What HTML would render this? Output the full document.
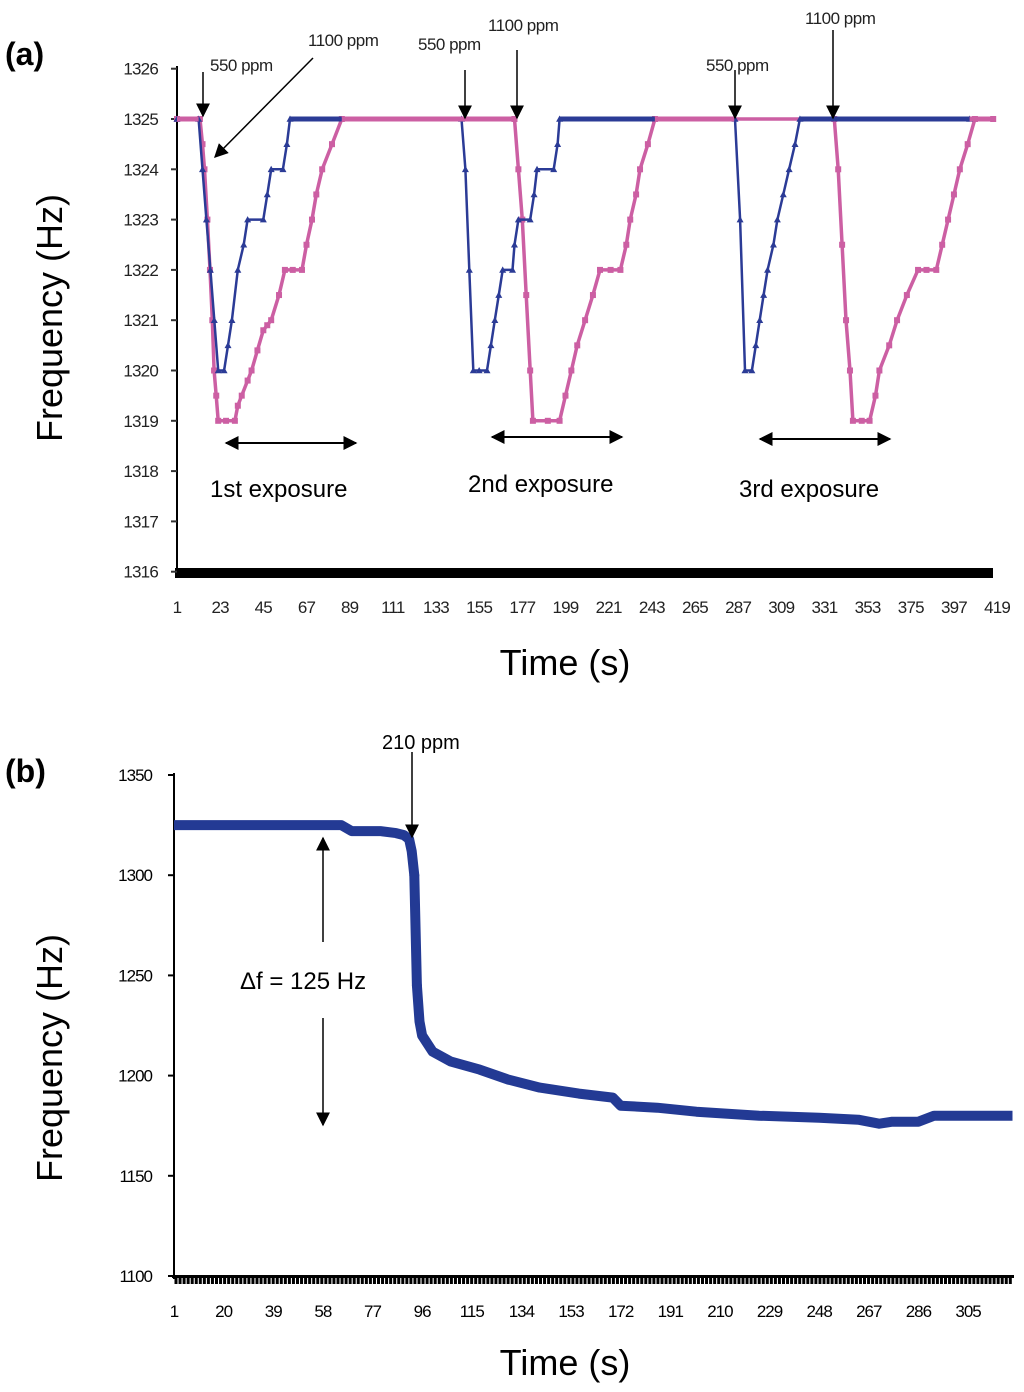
<!DOCTYPE html>
<html><head><meta charset="utf-8"><style>
body{margin:0;background:#fff;}
svg{display:block;font-family:"Liberation Sans",sans-serif;}
</style></head><body>
<svg id="fig" width="1024" height="1392" viewBox="0 0 1024 1392">
<defs>
<marker id="ahb" viewBox="0 0 10 10" markerWidth="14" markerHeight="14" refX="9" refY="5" orient="auto" markerUnits="userSpaceOnUse"><path d="M0,0 L10,5 L0,10 z" fill="#000"/></marker>
<marker id="ahs" viewBox="0 0 10 10" markerWidth="14" markerHeight="14" refX="1" refY="5" orient="auto" markerUnits="userSpaceOnUse"><path d="M10,0 L0,5 L10,10 z" fill="#000"/></marker>
</defs>
<g id="pa"></g>
<g id="pb"></g>
</svg>
<script>
// ---- Panel (a) data ----
const aTickLabelsX = [1,23,45,67,89,111,133,155,177,199,221,243,265,287,309,331,353,375,397,419];
const aTickLabelsY = [1316,1317,1318,1319,1320,1321,1322,1323,1324,1325,1326];
const blueT = [1,12,14,16,18,20,22,25,27,29,32,35,37,45,47,49,55,57,58.6,146,148,150,152,155,159,161,163,165,167,172,173,175,181,183,184.5,193,195,196,285.4,288,290.5,294,296,298,300,302,305,307,310,313,316,318.5,405];
const blueF = [1325,1325,1324,1323,1322,1321,1320,1320,1320.5,1321,1322,1322.5,1323,1323,1323.5,1324,1324,1324.5,1325,1325,1324,1322,1320,1320,1320,1320.5,1321,1321.5,1322,1322,1322.5,1323,1323,1323.5,1324,1324,1324.5,1325,1325,1323,1320,1320,1320.5,1321,1321.5,1322,1322.5,1323,1323.5,1324,1324.5,1325,1325];
const pinkT = [1,12.7,14,15,16.5,17.8,19,19.9,21,22,26,30.5,32,34,37,39,42,45,47,49,53,56,60,64.7,67,69.8,72,75,80,85,173,175,177,179,181,182.4,190,196,199,202,205,209,213,216.6,222,227,230,232,235,237,241,244.6,336,338,340,342,344,345.5,350,354,357,359,364,368,373,378.7,383,388,391,394,397,400,404,407.7,417];
const pinkF = [1325,1325,1324.5,1324,1323,1322,1321,1320,1319.5,1319,1319,1319,1319.3,1319.5,1319.8,1320,1320.4,1320.8,1320.9,1321,1321.5,1322,1322,1322,1322.5,1323,1323.5,1324,1324.5,1325,1325,1324,1323,1321.5,1320,1319,1319,1319,1319.5,1320,1320.5,1321,1321.5,1322,1322,1322,1322.5,1323,1323.5,1324,1324.5,1325,1325,1324,1322.5,1321,1320,1319,1319,1319,1319.5,1320,1320.5,1321,1321.5,1322,1322,1322,1322.5,1323,1323.5,1324,1324.5,1325,1325];
// ---- Panel (b) data ----
const bTickLabelsX = [1,20,39,58,77,96,115,134,153,172,191,210,229,248,267,286,305];
const bTickLabelsY = [1100,1150,1200,1250,1300,1350];
const bT = [1,65,69,80,86,89,91,92,93,94,95,96,100,107,118,129,141,156,169,172,186,201,225,248,263,271,276,286,292,322];
const bF = [1325,1325,1322,1322,1321,1320,1318,1312,1300,1245,1227,1220,1212,1207,1203,1198,1194,1191,1189,1185,1184,1182,1180,1179,1178,1176,1177,1177,1180,1180];

const NS="http://www.w3.org/2000/svg";
function mk(parent,tag,attrs,text){const e=document.createElementNS(NS,tag);for(const k in attrs)e.setAttribute(k,attrs[k]);if(text!==undefined)e.textContent=text;parent.appendChild(e);return e;}

const ax=t=>177+(t-1)*1.962;
const ay=f=>119+(1325-f)*50.3;
const bx=t=>174+(t-1)*2.612;
const by=f=>775+(1350-f)*2.004;

const pa=document.getElementById('pa');
const pb=document.getElementById('pb');

let e;
e=mk(pa,'text',{x:5,y:65,'font-size':32,'font-weight':'bold'},'(a)');


e=mk(pa,'line',{x1:177,y1:66,x2:177,y2:574,stroke:'#000','stroke-width':2});


e=mk(pa,'rect',{x:175,y:568,width:818,height:10,fill:'#000'});


aTickLabelsY.forEach(v=>{
  const t=mk(pa,'line',{x1:171,y1:ay(v),x2:177,y2:ay(v),stroke:'#333','stroke-width':2});
  
  
  const l=mk(pa,'text',{x:158,y:ay(v)+6,'font-size':17,'text-anchor':'end',fill:'#222','letter-spacing':'-0.8'},v);
  
  
});
aTickLabelsX.forEach(v=>{
  const l=mk(pa,'text',{x:ax(v),y:613,'font-size':17,'text-anchor':'middle',fill:'#222','letter-spacing':'-0.8'},v);
  
  
});
e=mk(pa,'text',{x:62,y:318,'font-size':36,'text-anchor':'middle',transform:'rotate(-90 62 318)'},'Frequency (Hz)');


e=mk(pa,'text',{x:565,y:675,'font-size':36,'text-anchor':'middle'},'Time (s)');



function series(parent,T,F,fx,fy,color,name,w,r,shape){
  const g=mk(parent,'g',{});
  
  
  const pts=T.map((t,i)=>fx(t).toFixed(1)+','+fy(F[i]).toFixed(1)).join(' ');
  mk(g,'polyline',{points:pts,fill:'none',stroke:color,'stroke-width':w,'stroke-linejoin':'round'});
  if(r>0) T.forEach((t,i)=>{
    let m;
    if(shape==='tri'){const x=fx(t),y=fy(F[i]);m=mk(g,'path',{d:`M${x},${y-r} L${x+r},${y+r*0.8} L${x-r},${y+r*0.8}z`,fill:color});}
    else m=mk(g,'rect',{x:fx(t)-r,y:fy(F[i])-r,width:2*r,height:2*r,fill:color});
    
    
  });
  return g;
}
series(pa,pinkT,pinkF,ax,ay,'#cc5fa3','series-1100ppm',3.5,3,'sq');
series(pa,blueT,blueF,ax,ay,'#2b3b96','series-550ppm',2.5,3.5,'tri');
series(pa,[58.6,85],[1325,1325],ax,ay,'#2b3b96','series-550ppm-flat-1',5,0,'sq');
series(pa,[196,244.6],[1325,1325],ax,ay,'#2b3b96','series-550ppm-flat-2',5,0,'sq');
series(pa,[318.5,336],[1325,1325],ax,ay,'#2b3b96','series-550ppm-flat-3',5,0,'sq');
series(pa,[1,12],[1325,1325],ax,ay,'#cc5fa3','series-1100ppm-flat-0',5,0,'sq');
series(pa,[85,173],[1325,1325],ax,ay,'#cc5fa3','series-1100ppm-flat',5,0,'sq');
series(pa,[244.6,285],[1325,1325],ax,ay,'#cc5fa3','series-1100ppm-flat-mid',5,0,'sq');
series(pa,[336,405],[1325,1325],ax,ay,'#2b3b96','series-550ppm-flat-4',5,0,'sq');
series(pa,[405,417],[1325,1325],ax,ay,'#cc5fa3','series-1100ppm-flat-end',5,0,'sq');

function txt(p,x,y,s,str,name,extra){const t=mk(p,'text',Object.assign({x:x,y:y,'font-size':s},extra||{}),str);return t;}
function arr(p,x1,y1,x2,y2,name){const l=mk(p,'line',{x1,y1,x2,y2,stroke:'#000','stroke-width':1.5,'marker-end':'url(#ahb)'});return l;}
function darr(p,x1,y1,x2,y2,name){const l=mk(p,'line',{x1,y1,x2,y2,stroke:'#000','stroke-width':2,'marker-end':'url(#ahb)','marker-start':'url(#ahs)'});}

const ls={'letter-spacing':'-0.5',fill:'#222'};
txt(pa,210,71,17,'550 ppm','annot-550-1',ls); arr(pa,203,72,203,116,'arrow-550-1');
txt(pa,308,46,17,'1100 ppm','annot-1100-1',ls); arr(pa,313,58,215,157,'arrow-1100-1');
txt(pa,418,50,17,'550 ppm','annot-550-2',ls); arr(pa,465,70,465,118,'arrow-550-2');
txt(pa,488,31,17,'1100 ppm','annot-1100-2',ls); arr(pa,517,50,517,118,'arrow-1100-2');
txt(pa,706,71,17,'550 ppm','annot-550-3',ls); arr(pa,735,70,735,118,'arrow-550-3');
txt(pa,805,24,17,'1100 ppm','annot-1100-3',ls); arr(pa,833,30,833,118,'arrow-1100-3');
darr(pa,226,443,356,443,'range-1st'); txt(pa,210,497,24,'1st exposure','label-1st-exposure');
darr(pa,492,437,622,437,'range-2nd'); txt(pa,468,492,24,'2nd exposure','label-2nd-exposure');
darr(pa,760,439,890,439,'range-3rd'); txt(pa,739,497,24,'3rd exposure','label-3rd-exposure');

// ===== Panel B =====
txt(pb,5,782,32,'(b)','panel-b-label',{'font-weight':'bold'});
e=mk(pb,'line',{x1:174,y1:773,x2:174,y2:1279,stroke:'#000','stroke-width':2});


e=mk(pb,'line',{x1:172,y1:1276.5,x2:1014,y2:1276.5,stroke:'#000','stroke-width':3});


for(let x=176;x<=1012;x+=4.05){
  const t=mk(pb,'line',{x1:x,y1:1276,x2:x,y2:1284,stroke:'#000','stroke-width':3});
  
  
}
bTickLabelsY.forEach(v=>{
  const t=mk(pb,'line',{x1:168,y1:by(v),x2:174,y2:by(v),stroke:'#000','stroke-width':2});
  
  
  txt(pb,152,by(v)+6,17,v,'b-y-tick-label',{'text-anchor':'end','letter-spacing':'-1'});
});
bTickLabelsX.forEach(v=>{ txt(pb,bx(v),1317,17,v,'b-x-tick-label',{'text-anchor':'middle','letter-spacing':'-1'}); });
txt(pb,62,1058,36,'Frequency (Hz)','b-y-axis-title',{'text-anchor':'middle',transform:'rotate(-90 62 1058)'});
txt(pb,565,1375,36,'Time (s)','b-x-axis-title',{'text-anchor':'middle'});
series(pb,bT,bF,bx,by,'#233a94','series-210ppm',10,0,'sq');
const dots=[93,94];
dots.forEach(t=>{const i=bT.indexOf(t);const d=mk(pb,'circle',{cx:bx(t),cy:by(bF[i]),r:5,fill:'#233a94'});});
txt(pb,382,749,20,'210 ppm','annot-210ppm');
arr(pb,412,752,412,837,'arrow-210ppm');
arr(pb,323,942,323,838,'delta-arrow-up');
arr(pb,323,1018,323,1125,'delta-arrow-down');
txt(pb,240,989,24,'\u0394f = 125 Hz','delta-f-label');
</script>
</body></html>
